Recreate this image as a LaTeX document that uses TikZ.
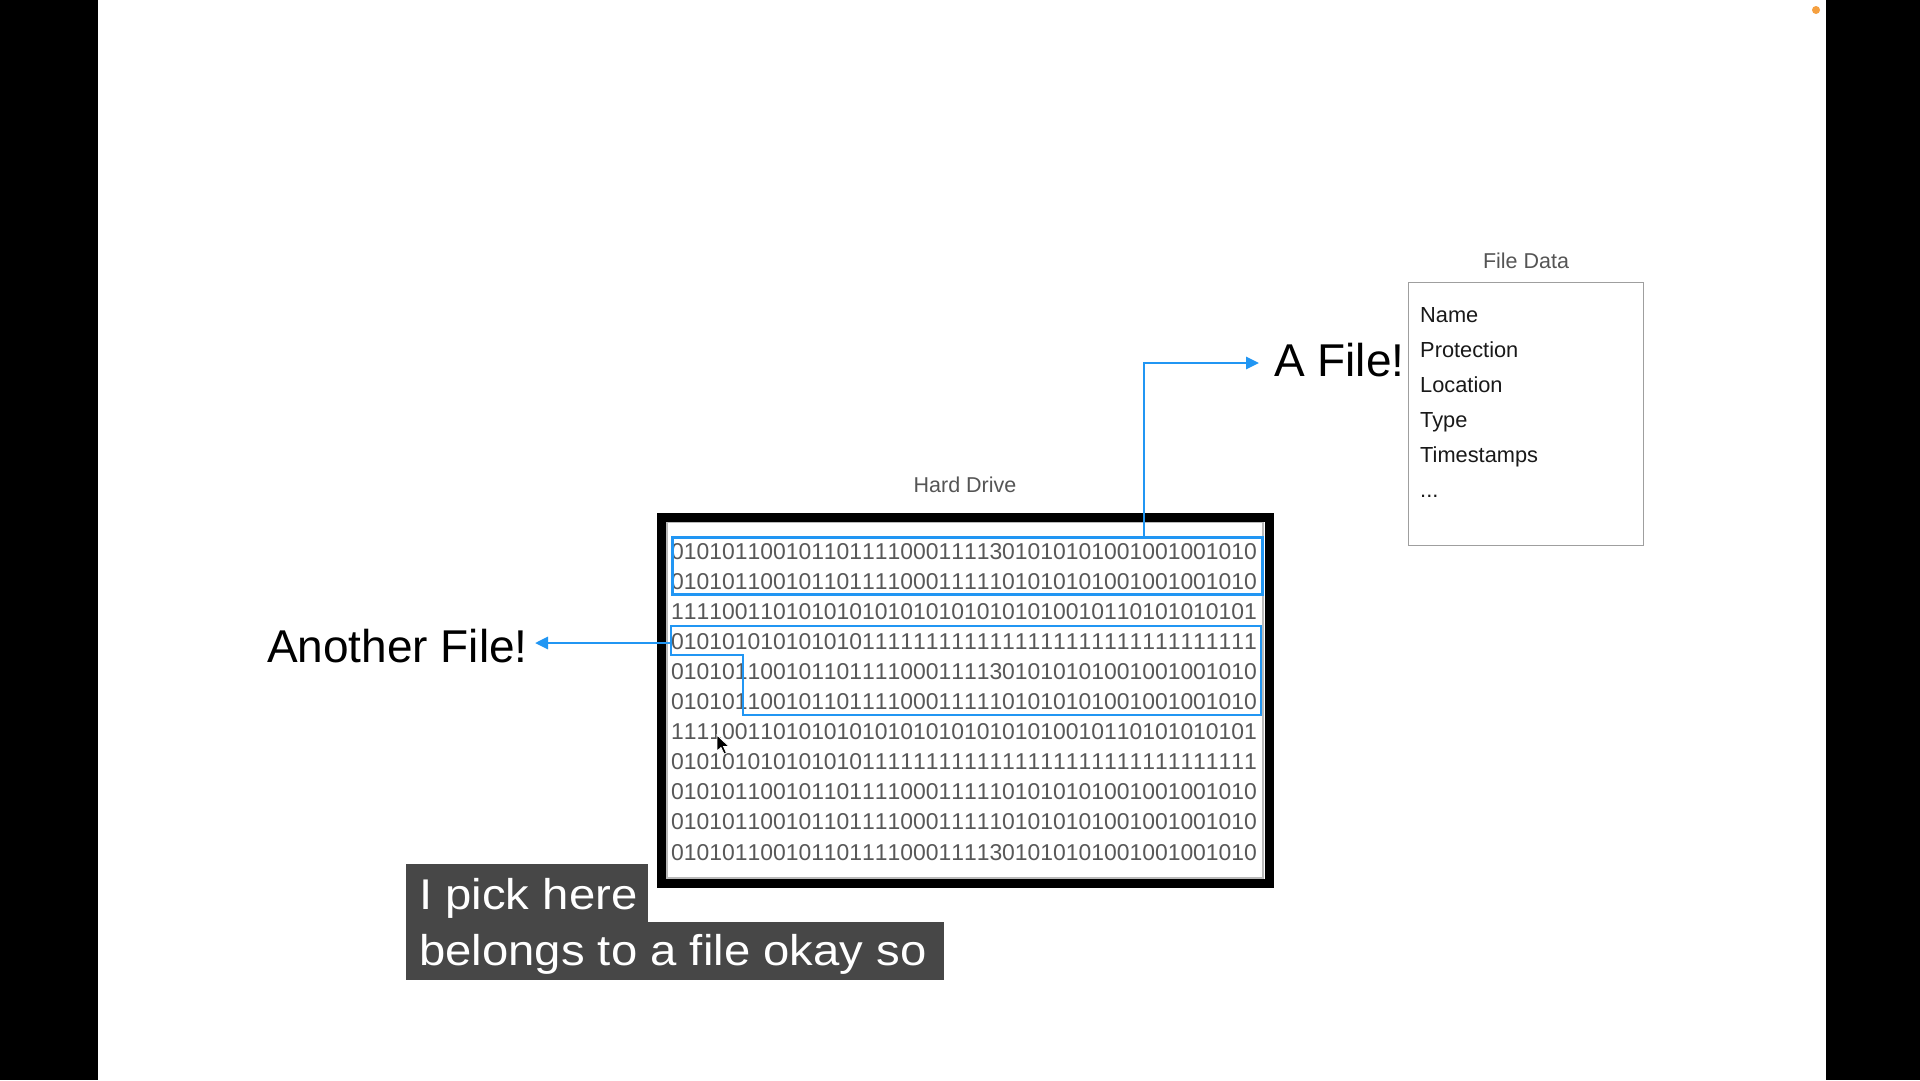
\documentclass[tikz,border=0pt]{standalone}
\usepackage{fontspec}
\setmainfont{Liberation Sans}
\newfontfamily\bitfont{Liberation Sans}[Kerning=Off]
\usetikzlibrary{arrows.meta}
\definecolor{fileblue}{RGB}{33,150,243}
\definecolor{bitgray}{RGB}{88,88,88}
\definecolor{labgray}{RGB}{85,85,85}
\definecolor{capbg}{RGB}{71,71,71}
\definecolor{dotorange}{RGB}{245,160,64}
\begin{document}
\begin{tikzpicture}[x=1pt,y=-1pt,
  bits/.style={anchor=base west, inner sep=0, text=bitgray, font=\bitfont\fontsize{22.9}{22.9}\selectfont},
  blueline/.style={draw=fileblue, line width=2.9},
  bluearrow/.style={blueline, -{Triangle[length=13pt,width=12pt]}},
  bigtext/.style={inner sep=0, text=black, font=\fontsize{46}{46}\selectfont},
  smalllab/.style={inner sep=0, anchor=base, text=labgray, font=\fontsize{21.5}{21.5}\selectfont},
  fditem/.style={inner sep=0, anchor=base west, text=black!90, font=\fontsize{21.8}{21.8}\selectfont},
  capbox/.style={fill=capbg, inner sep=0, anchor=north west},
  captext/.style={inner sep=0, anchor=base west, text=white, font=\fontsize{43}{43}\selectfont}]
\useasboundingbox (0,0) rectangle (1920,1080);
\fill[white] (0,0) rectangle (1920,1080);
\fill[black] (0,0) rectangle (98,1080);
\fill[black] (1826,0) rectangle (1920,1080);
\fill[dotorange] (1816,10) circle (4);

% hard drive frame
\node[smalllab] (hdlab) at (965,492) {Hard Drive};
\draw[black, line width=9] (661,517) rectangle (1269,883);
\draw[gray!55, line width=1.2] (667,522.5) rectangle (1263,878);

% bit rows
\foreach \s [count=\i] in {
0101011001011011110001111301010101001001001010,
0101011001011011110001111101010101001001001010,
1111001101010101010101010101010010110101010101,
0101010101010101111111111111111111111111111111,
0101011001011011110001111301010101001001001010,
0101011001011011110001111101010101001001001010,
1111001101010101010101010101010010110101010101,
0101010101010101111111111111111111111111111111,
0101011001011011110001111101010101001001001010,
0101011001011011110001111101010101001001001010,
0101011001011011110001111301010101001001001010}
  \node[bits] (row\i) at (671,{559+30.1*(\i-1)}) {\s};

% file outlines
\node[blueline, inner sep=0, minimum width=590, minimum height=57, anchor=north west] (box1) at (671,536) {};
\draw[blueline] (671,626) coordinate (b2a) -- (1261,626) coordinate (b2b)
  -- (1261,715) coordinate (b2c) -- (743,715) coordinate (b2d)
  -- (743,655) coordinate (b2e) -- (671,655) coordinate (b2f) -- cycle;
\coordinate (b2w) at (671,643);

% labels and arrows
\node[bigtext, anchor=base west] (afile) at (1274,376) {A File!};
\node[bigtext, anchor=base east] (another) at (528,662) {Another File!};
\coordinate (bend1) at (1144,363);
\draw[bluearrow] (box1.north -| bend1) -- (bend1) -- ([xshift=-15pt]afile.west |- bend1);
\draw[bluearrow] (b2w) -- ([xshift=7pt]another.east |- b2w);

% file data
\node[smalllab] (fdlab) at (1526,268) {File Data};
\node[draw=gray!75, line width=1.4, inner sep=0, minimum width=235, minimum height=263, anchor=north west] (fdbox) at (1408,282) {};
\node[fditem] (fd1) at (1420,322) {Name};
\node[fditem] (fd2) at (1420,357) {Protection};
\node[fditem] (fd3) at (1420,392) {Location};
\node[fditem] (fd4) at (1420,427) {Type};
\node[fditem] (fd5) at (1420,462) {Timestamps};
\node[fditem] (fd6) at (1420,497) {...};

% mouse cursor
\filldraw[black, draw=white, line width=0.8] (717,735) -- (717,751) -- (721,747.5) -- (724,754) -- (726.5,753) -- (723.5,746.5) -- (729,746.5) -- cycle;

% caption
\node[capbox, minimum width=242, minimum height=58] (cap1) at (406,864) {};
\node[capbox, minimum width=538, minimum height=58] (cap2) at (406,922) {};
\node[captext] (cap1t) at (419,909) {\scalebox{1.1}[1]{I pick here}};
\node[captext] (cap2t) at (419,965) {\scalebox{1.1}[1]{belongs to a file okay so}};
\end{tikzpicture}
\end{document}
